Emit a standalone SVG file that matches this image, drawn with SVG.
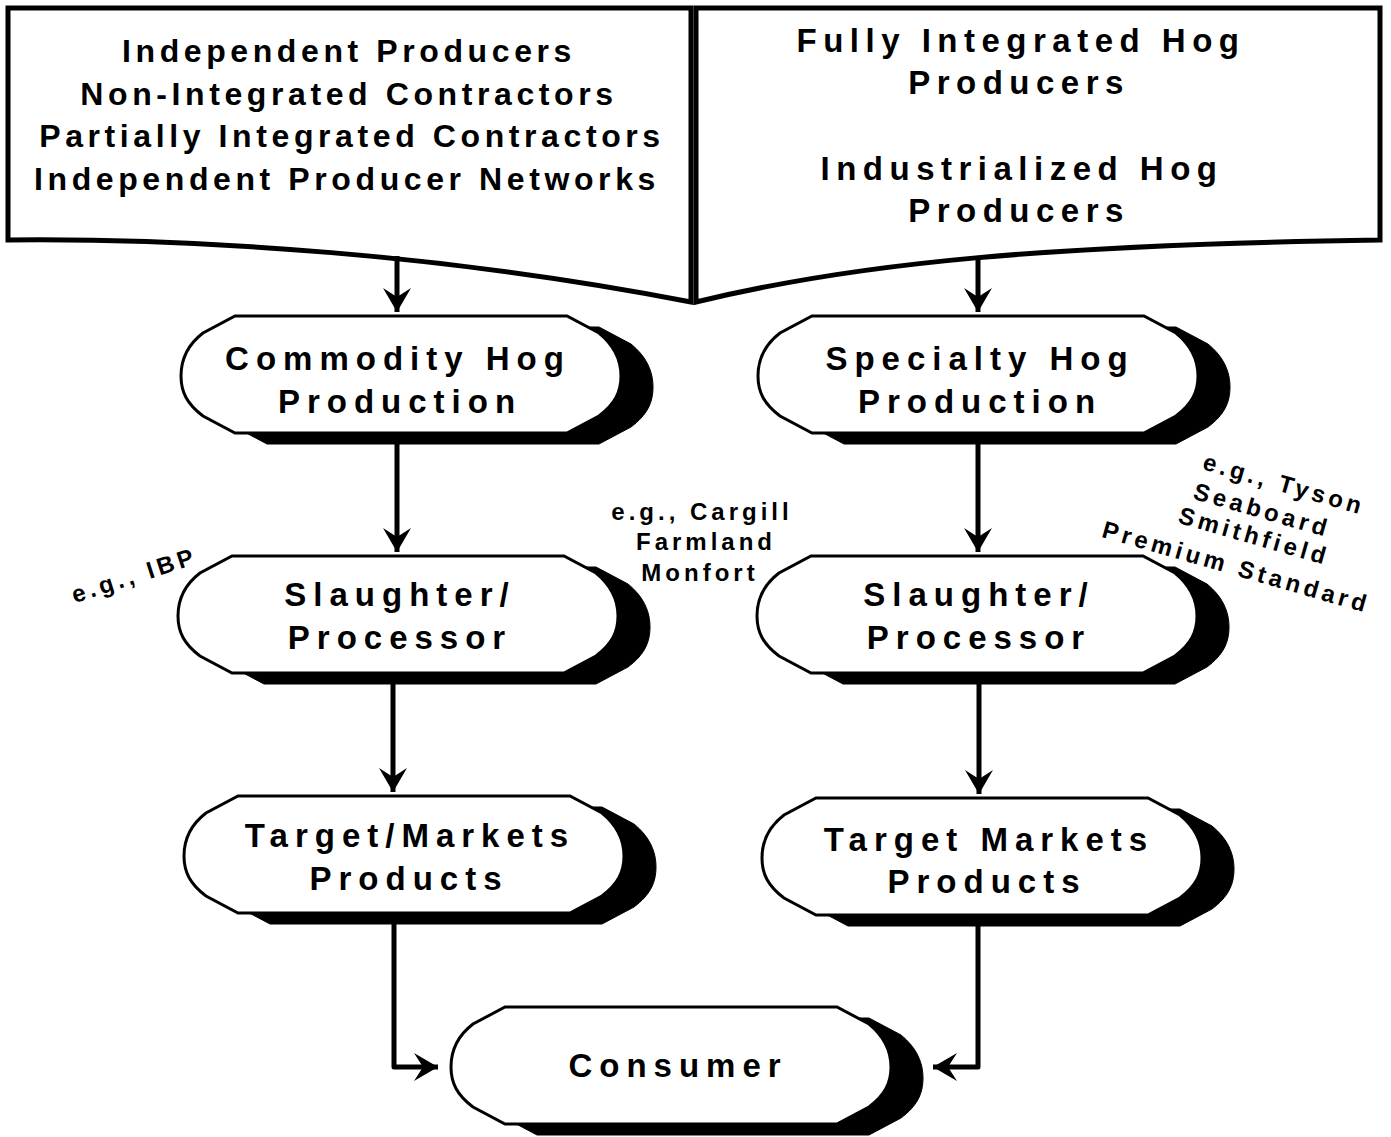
<svg xmlns="http://www.w3.org/2000/svg" xmlns:xlink="http://www.w3.org/1999/xlink" width="1391" height="1137" viewBox="0 0 1391 1137">
<style>
  .bg { fill: #ffffff; }
  .box { fill: #ffffff; stroke: #000000; stroke-width: 5; stroke-linejoin: miter; }
  .node { fill: #ffffff; stroke: #000000; stroke-width: 3; }
  .shadow { fill: #000000; stroke: #000000; stroke-width: 1; }
  text { font-family: "Liberation Sans", Arial, sans-serif; font-weight: bold; fill: #000000; }
  .tl { font-size: 32px; letter-spacing: 4.6px; text-anchor: middle; }
  .tr { font-size: 33px; letter-spacing: 6.5px; text-anchor: middle; }
  .nt { font-size: 33px; letter-spacing: 7px; text-anchor: middle; }
  .lab { font-size: 24px; letter-spacing: 4px; text-anchor: middle; }
  .conn { fill: none; stroke: #000000; stroke-width: 5; stroke-linejoin: round; }
</style>
<defs>
  <path id="term" d="M54,0 L386,0 L418,17 C434,30 440,45 440,60 C440,76 434,88 418,100 L386,117 L54,117 L22,100 C6,88 0,76 0,60 C0,45 5,30 22,17 Z"/>
  <marker id="arr" markerUnits="userSpaceOnUse" markerWidth="32" markerHeight="32" viewBox="-26 -16 28 32" refX="0" refY="0" orient="auto">
    <path d="M0,0 L-24,-14 L-15,0 L-24,14 Z" fill="#000000"/>
  </marker>
</defs>
<rect class="bg" x="0" y="0" width="1391" height="1137"/>

<g id="box-left">
  <path class="box" d="M8,8 L691,8 L691,302 C450,255 200,238 8,240 Z"/>
  <text class="tl" x="349" y="62">Independent Producers</text>
  <text class="tl" x="349" y="105">Non-Integrated Contractors</text>
  <text class="tl" x="352" y="147">Partially Integrated Contractors</text>
  <text class="tl" x="347" y="190">Independent Producer Networks</text>
</g>

<g id="box-right">
  <path class="box" d="M696,8 L1380,8 L1380,240 C1050,245 860,262 696,302 Z"/>
  <text class="tr" x="1021" y="52">Fully Integrated Hog</text>
  <text class="tr" x="1019" y="94">Producers</text>
  <text class="tr" x="1022" y="180">Industrialized Hog</text>
  <text class="tr" x="1019" y="222">Producers</text>
</g>

<g id="commodity">
  <use href="#term" class="shadow" x="213" y="327"/>
  <use href="#term" class="node" x="181" y="316"/>
  <text class="nt" x="398" y="370">Commodity Hog</text>
  <text class="nt" x="400" y="413">Production</text>
</g>

<g id="specialty">
  <use href="#term" class="shadow" x="790" y="327"/>
  <use href="#term" class="node" x="758" y="316"/>
  <text class="nt" x="980" y="370">Specialty Hog</text>
  <text class="nt" x="980" y="413">Production</text>
</g>

<g id="slaughter-left">
  <use href="#term" class="shadow" x="210" y="567"/>
  <use href="#term" class="node" x="178" y="556"/>
  <text class="nt" x="400" y="606">Slaughter/</text>
  <text class="nt" x="400" y="649">Processor</text>
</g>

<g id="slaughter-right">
  <use href="#term" class="shadow" x="789" y="567"/>
  <use href="#term" class="node" x="757" y="556"/>
  <text class="nt" x="979" y="606">Slaughter/</text>
  <text class="nt" x="979" y="649">Processor</text>
</g>

<g id="target-left">
  <use href="#term" class="shadow" x="216" y="807"/>
  <use href="#term" class="node" x="184" y="796"/>
  <text class="nt" x="410" y="847">Target/Markets</text>
  <text class="nt" x="409" y="890">Products</text>
</g>

<g id="target-right">
  <use href="#term" class="shadow" x="794" y="809"/>
  <use href="#term" class="node" x="762" y="798"/>
  <text class="nt" x="989" y="851">Target Markets</text>
  <text class="nt" x="987" y="893">Products</text>
</g>

<g id="consumer">
  <use href="#term" class="shadow" x="483" y="1018"/>
  <use href="#term" class="node" x="451" y="1007"/>
  <text class="nt" x="678" y="1077">Consumer</text>
</g>

<g id="labels">
  <text class="lab" transform="translate(137,583) rotate(-18)">e.g., IBP</text>
  <text class="lab" x="702" y="520">e.g., Cargill</text>
  <text class="lab" x="706" y="550">Farmland</text>
  <text class="lab" x="700" y="581">Monfort</text>
  <text class="lab" transform="translate(1282,492) rotate(16)">e.g., Tyson</text>
  <text class="lab" transform="translate(1260,518) rotate(16)">Seaboard</text>
  <text class="lab" transform="translate(1252,544) rotate(16)">Smithfield</text>
  <text class="lab" transform="translate(1234,575) rotate(16)">Premium Standard</text>
</g>

<g id="connectors">
  <path class="conn" d="M397,256 L397,312" marker-end="url(#arr)"/>
  <path class="conn" d="M978,258 L978,312" marker-end="url(#arr)"/>
  <path class="conn" d="M397,444 L397,552" marker-end="url(#arr)"/>
  <path class="conn" d="M978,444 L978,552" marker-end="url(#arr)"/>
  <path class="conn" d="M393,684 L393,792" marker-end="url(#arr)"/>
  <path class="conn" d="M979,684 L979,794" marker-end="url(#arr)"/>
  <path class="conn" d="M394,924 L394,1067 L438,1067" marker-end="url(#arr)"/>
  <path class="conn" d="M978,926 L978,1067 L933,1067" marker-end="url(#arr)"/>
</g>
</svg>
